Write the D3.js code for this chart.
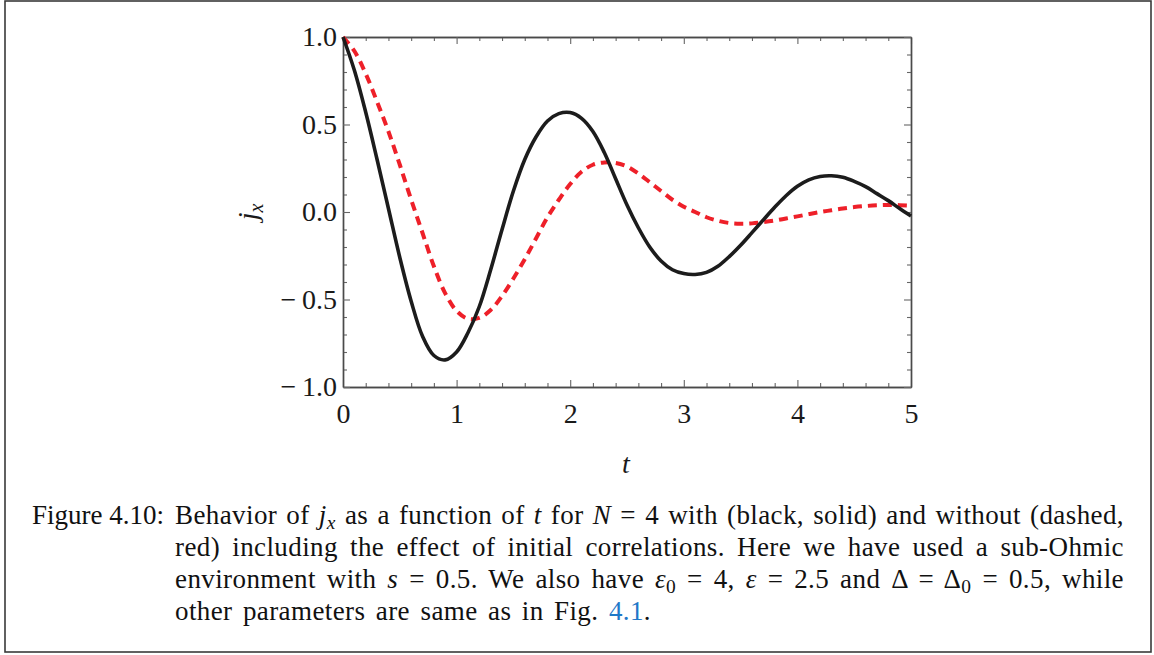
<!DOCTYPE html>
<html lang="en">
<head>
<meta charset="UTF-8">
<title>Figure 4.10 - j_x as a function of t</title>
<script src="https://d3js.org/d3.v7.min.js"></script>
<style>
    body {
        margin: 0;
        background: #fff;
        width: 1154px;
        height: 655px;
        position: relative;
        overflow: hidden;
        font-family: "Liberation Serif", "Times New Roman", serif;
    }
    #chart { position: absolute; left: 0; top: 0; }
    .axis path { stroke: #4a4a4a; stroke-width: 1.4px; }
    .axis line { stroke: #666; stroke-width: 1.1px; }
    .axis text { font-family: "Liberation Serif", serif; font-size: 28px; fill: #1a1a1a; }
    .axis-title { font-family: "Liberation Serif", serif; font-size: 28px; font-style: italic; fill: #1a1a1a; }

    #caption {
        position: absolute;
        left: 32px;
        top: 499px;
        font-size: 27px;
        line-height: 32px;
        color: #111;
        letter-spacing: 0.4px;
    }
    #caption .label { position: absolute; left: 0; top: 0; white-space: pre; letter-spacing: 0px; }
    #caption .line { position: absolute; left: 143px; white-space: pre; }
    #caption sub { font-size: 0.72em; vertical-align: -0.25em; line-height: 0; }
    #caption .ref { color: #1f78c8; }
</style>
</head>
<body>
<svg id="chart" width="1154" height="655"></svg>

<div id="caption">
    <span class="label">Figure 4.10:</span>
    <span class="line" data-w="949" style="top:0px">Behavior of <i>j<sub>x</sub></i> as a function of <i>t</i> for <i>N</i> = 4 with (black, solid) and without (dashed,</span>
    <span class="line" data-w="949" style="top:32px">red) including the effect of initial correlations. Here we have used a sub-Ohmic</span>
    <span class="line" data-w="949" style="top:64px">environment with <i>s</i> = 0.5. We also have <i>ε</i><sub>0</sub> = 4, <i>ε</i> = 2.5 and Δ = Δ<sub>0</sub> = 0.5, while</span>
    <span class="line" data-w="476" style="top:96px">other parameters are same as in Fig. <span class="ref">4.1</span>.</span>
</div>

<script>
    // values, t = 0 ... 5 in steps of 0.1
    const tValues = [
        0.0, 0.1, 0.2, 0.3, 0.4, 0.5, 0.6, 0.7, 0.8, 0.9,
        1.0, 1.1, 1.2, 1.3, 1.4, 1.5, 1.6, 1.7, 1.8, 1.9,
        2.0, 2.1, 2.2, 2.3, 2.4, 2.5, 2.6, 2.7, 2.8, 2.9,
        3.0, 3.1, 3.2, 3.3, 3.4, 3.5, 3.6, 3.7, 3.8, 3.9,
        4.0, 4.1, 4.2, 4.3, 4.4, 4.5, 4.6, 4.7, 4.8, 4.9,
        5.0
    ];

    // black, solid: with initial correlations
    const jxWith = [
        1.00, 0.81, 0.57, 0.30, 0.02, -0.26, -0.51, -0.71, -0.82, -0.845,
        -0.80, -0.69, -0.54, -0.33, -0.10, 0.12, 0.30, 0.43, 0.52, 0.562,
        0.568, 0.535, 0.46, 0.34, 0.19, 0.04, -0.09, -0.20, -0.28, -0.33,
        -0.352, -0.357, -0.345, -0.31, -0.255, -0.19, -0.118, -0.045, 0.027, 0.093,
        0.147, 0.184, 0.203, 0.207, 0.198, 0.175, 0.145, 0.105, 0.065, 0.02,
        -0.023
    ];

    // red, dashed: without initial correlations
    const jxWithout = [
        1.00, 0.92, 0.79, 0.63, 0.46, 0.27, 0.07, -0.12, -0.31, -0.465,
        -0.565, -0.61, -0.605, -0.56, -0.48, -0.38, -0.27, -0.15, -0.03, 0.07,
        0.16, 0.23, 0.27, 0.283, 0.28, 0.26, 0.22, 0.17, 0.12, 0.07,
        0.03, 0.00, -0.03, -0.05, -0.063, -0.067, -0.065, -0.058, -0.049, -0.037,
        -0.025, -0.012, 0.00, 0.01, 0.02, 0.028, 0.034, 0.038, 0.04, 0.039,
        0.036
    ];

    const xMajorTicks = [0, 1, 2, 3, 4, 5];
    const yMajorTicks = [-1.0, -0.5, 0.0, 0.5, 1.0];

    const svg = d3.select("#chart");

    // outer figure border
    svg.append("rect")
        .attr("x", 5).attr("y", 1)
        .attr("width", 1146).attr("height", 651)
        .attr("fill", "none")
        .attr("stroke", "#3a3a3a")
        .attr("stroke-width", 1.6);

    const x = d3.scaleLinear().domain([0, 5]).range([343, 911]);
    const y = d3.scaleLinear().domain([-1, 1]).range([387, 37]);

    const xMinor = d3.range(0, 5.0001, 0.2).map(v => +v.toFixed(1)).filter(v => !xMajorTicks.includes(v));
    const yMinor = d3.range(-1, 1.0001, 0.1).map(v => +v.toFixed(1)).filter(v => !yMajorTicks.includes(v));

    // minus sign with a thin gap, as in the original figure
    const fmt = v => v < 0 ? "\u2212\u2009" + d3.format(".1f")(-v) : d3.format(".1f")(v);

    // minor ticks, all four sides
    svg.append("g").attr("class", "axis").attr("transform", `translate(0,${y(-1)})`)
        .call(d3.axisBottom(x).tickValues(xMinor).tickSize(-4).tickSizeOuter(0).tickFormat(""));
    svg.append("g").attr("class", "axis").attr("transform", `translate(0,${y(1)})`)
        .call(d3.axisTop(x).tickValues(xMinor).tickSize(-4).tickSizeOuter(0).tickFormat(""));
    svg.append("g").attr("class", "axis").attr("transform", `translate(${x(0)},0)`)
        .call(d3.axisLeft(y).tickValues(yMinor).tickSize(-4).tickSizeOuter(0).tickFormat(""));
    svg.append("g").attr("class", "axis").attr("transform", `translate(${x(5)},0)`)
        .call(d3.axisRight(y).tickValues(yMinor).tickSize(-4).tickSizeOuter(0).tickFormat(""));

    // major ticks
    svg.append("g").attr("class", "axis").attr("transform", `translate(0,${y(-1)})`)
        .call(d3.axisBottom(x).tickValues(xMajorTicks).tickSize(-7).tickSizeOuter(0)
            .tickPadding(16).tickFormat(d3.format("d")));
    svg.append("g").attr("class", "axis").attr("transform", `translate(0,${y(1)})`)
        .call(d3.axisTop(x).tickValues(xMajorTicks).tickSize(-7).tickSizeOuter(0).tickFormat(""));
    svg.append("g").attr("class", "axis").attr("transform", `translate(${x(0)},0)`)
        .call(d3.axisLeft(y).tickValues(yMajorTicks).tickSize(-7).tickSizeOuter(0)
            .tickPadding(6).tickFormat(fmt));
    svg.append("g").attr("class", "axis").attr("transform", `translate(${x(5)},0)`)
        .call(d3.axisRight(y).tickValues(yMajorTicks).tickSize(-7).tickSizeOuter(0).tickFormat(""));

    svg.selectAll(".axis").attr("font-family", null).attr("font-size", null);

    // curves
    const line = d3.line()
        .x(d => x(d[0]))
        .y(d => y(d[1]))
        .curve(d3.curveCatmullRom.alpha(0.5));

    svg.append("path")
        .datum(tValues.map((t, i) => [t, jxWithout[i]]))
        .attr("fill", "none")
        .attr("stroke", "#ee2029")
        .attr("stroke-width", 4)
        .attr("stroke-dasharray", "9,6")
        .attr("d", line);

    svg.append("path")
        .datum(tValues.map((t, i) => [t, jxWith[i]]))
        .attr("fill", "none")
        .attr("stroke", "#1c1c1c")
        .attr("stroke-width", 3.6)
        .attr("d", line);

    // axis titles
    svg.append("text")
        .attr("class", "axis-title")
        .attr("x", x(2.5) - 1)
        .attr("y", 473)
        .attr("text-anchor", "middle")
        .text("t");

    const yTitle = svg.append("text")
        .attr("class", "axis-title")
        .attr("transform", `translate(257,${y(0)}) rotate(-90)`)
        .attr("text-anchor", "middle");
    yTitle.append("tspan").text("j");
    yTitle.append("tspan")
        .attr("font-size", "20px")
        .attr("dy", "6")
        .text("x");

    // justify caption lines by adjusting word spacing
    document.querySelectorAll("#caption .line").forEach(el => {
        const target = +el.dataset.w;
        const natural = el.getBoundingClientRect().width;
        const spaces = (el.textContent.match(/ /g) || []).length;
        if (spaces > 0) el.style.wordSpacing = ((target - natural) / spaces) + "px";
    });
</script>
</body>
</html>
